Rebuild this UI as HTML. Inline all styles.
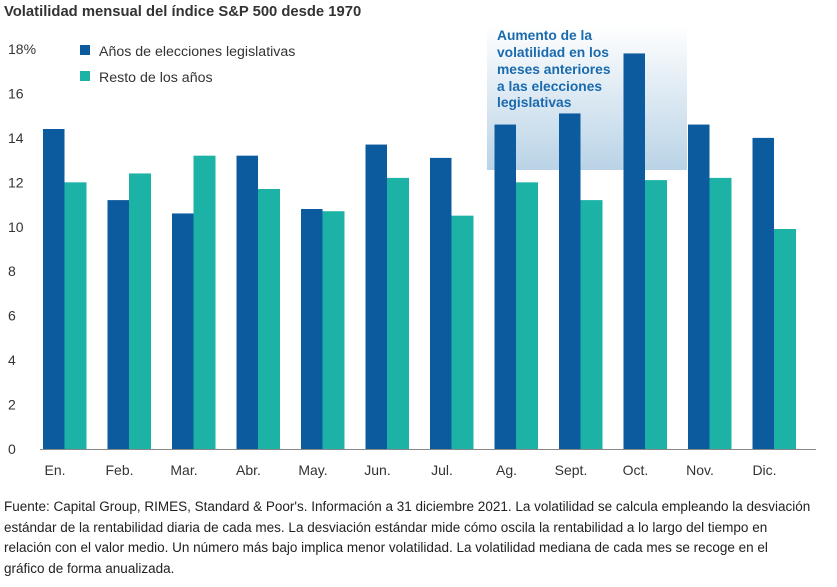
<!DOCTYPE html>
<html><head><meta charset="utf-8"><style>
body{margin:0;background:#fff;width:837px;height:587px;overflow:hidden;font-family:"Liberation Sans",sans-serif;}
#title{position:absolute;left:4px;top:4px;font-size:14.8px;font-weight:bold;color:#333;}
#note{position:absolute;left:4px;top:497px;width:833px;font-size:13.5px;line-height:20.6px;color:#222;white-space:nowrap;}
svg{position:absolute;left:0;top:0;}
</style></head><body>
<div id="title">Volatilidad mensual del índice S&amp;P 500 desde 1970</div>
<svg width="837" height="587">
<defs><linearGradient id="g" x1="0" y1="0" x2="0" y2="1"><stop offset="0" stop-color="#ffffff"/><stop offset="1" stop-color="#b9d3e6"/></linearGradient></defs>
<rect x="487" y="25" width="200" height="145" fill="url(#g)"/>
<text font-size="13.8" font-weight="bold" fill="#1a6aae">
<tspan x="497" y="40">Aumento de la</tspan><tspan x="497" y="57">volatilidad en los</tspan><tspan x="497" y="74">meses anteriores</tspan><tspan x="497" y="91">a las elecciones</tspan><tspan x="497" y="107">legislativas</tspan></text>
<g id="plot"></g>
<rect x="80" y="45" width="10" height="10" fill="#0b5b9e"/>
<text x="99" y="56" font-size="14.2" fill="#333">Años de elecciones legislativas</text>
<rect x="80" y="71" width="10" height="10" fill="#1cb3a6"/>
<text x="99" y="82" font-size="14.2" fill="#333">Resto de los años</text>
</svg>
<div id="note">Fuente: Capital Group, RIMES, Standard &amp; Poor's. Información a 31 diciembre 2021. La volatilidad se calcula empleando la desviación<br>estándar de la rentabilidad diaria de cada mes. La desviación estándar mide cómo oscila la rentabilidad a lo largo del tiempo en<br>relación con el valor medio. Un número más bajo implica menor volatilidad. La volatilidad mediana de cada mes se recoge en el<br>gráfico de forma anualizada.</div>
<script>
const categories=["En.","Feb.","Mar.","Abr.","May.","Jun.","Jul.","Ag.","Sept.","Oct.","Nov.","Dic."];
const electionYears=[14.4,11.2,10.6,13.2,10.8,13.7,13.1,14.6,15.1,17.8,14.6,14.0];
const otherYears=[12.0,12.4,13.2,11.7,10.7,12.2,10.5,12.0,11.2,12.1,12.2,9.9];
const yTicks=[0,2,4,6,8,10,12,14,16,18];
const NS="http://www.w3.org/2000/svg";
const g=document.getElementById('plot');
const y0=449,yTop=49,yMax=18;
const y=v=>y0-(v/yMax)*(y0-yTop);
const x=i=>43+i*64.5;
function el(t,a){const e=document.createElementNS(NS,t);for(const k in a)e.setAttribute(k,a[k]);g.appendChild(e);return e;}
yTicks.forEach(t=>{
  const e=el('text',{x:8,y:y(t)+5,'font-size':14,fill:'#333'});
  e.textContent=t===18?'18%':t;
  
  
});
categories.forEach((c,i)=>{
  const b1=el('rect',{x:x(i),y:y(electionYears[i]),width:21.5,height:y0-y(electionYears[i]),fill:'#0b5b9e'});
  
  
  const b2=el('rect',{x:x(i)+21.5,y:y(otherYears[i]),width:22,height:y0-y(otherYears[i]),fill:'#1cb3a6'});
  
  
  const t=el('text',{x:x(i)+12,y:475,'font-size':14,fill:'#333','text-anchor':'middle'});
  t.textContent=c;
  
  
});
const ax=el('line',{x1:40,x2:816,y1:y0+0.5,y2:y0+0.5,stroke:'#888','stroke-width':1});


</script>
</body></html>
